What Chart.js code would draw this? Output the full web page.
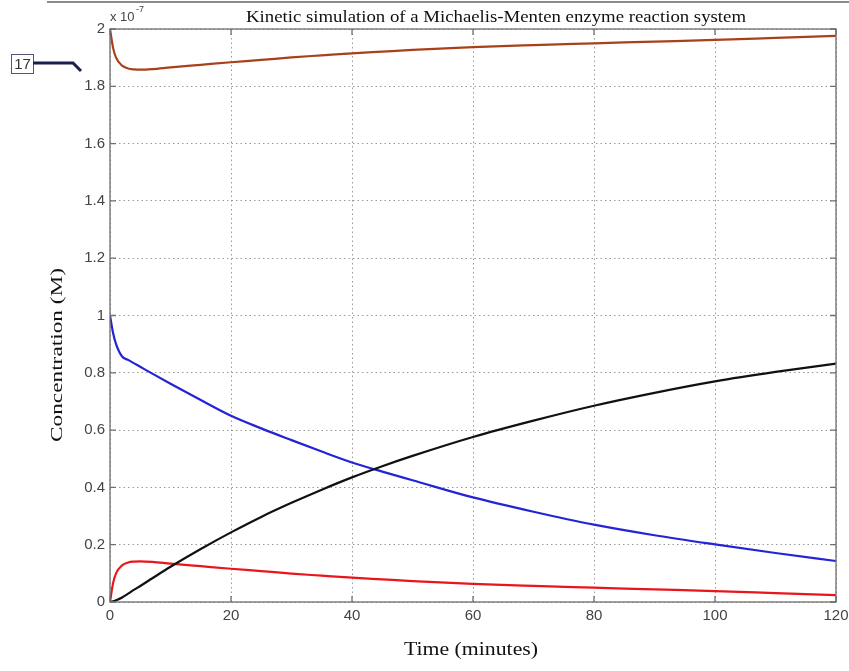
<!DOCTYPE html>
<html>
<head>
<meta charset="utf-8">
<title>Michaelis-Menten</title>
<script src="https://cdn.jsdelivr.net/npm/chart.js@4.4.0/dist/chart.umd.min.js"></script>
<style>
  html, body { margin: 0; padding: 0; background: #fff; }
  #contenedor { position: relative; width: 849px; height: 671px; }
  #lineaSuperior { position: absolute; left: 47px; top: 1px; width: 802px; height: 2px; background: #8c8c8c; }
  #marca { position: absolute; left: 11px; top: 54px; width: 21px; height: 18px; border: 1px solid #55557a;
           font: 15px "Liberation Sans", sans-serif; color: #333; text-align: center; line-height: 18px; }
  #flecha { position: absolute; left: 0; top: 0; }
</style>
</head>
<body>
<div id="contenedor">
  <canvas id="myChart"></canvas>
  <div id="lineaSuperior"></div>
  <div id="marca">17</div>
  <svg id="flecha" width="100" height="90"><polyline points="33,63 73,63 81,71" fill="none" stroke="#1b1f4e" stroke-width="3"/></svg>
</div>
<script>
// tiempo en minutos, concentraciones en unidades de 1e-7 M
const tiempo = [0, 0.5, 1, 2, 3, 4, 5, 7, 10, 15, 20, 25, 30, 35, 40, 45, 50, 60, 70, 80, 90, 100, 110, 120];
const sustrato = [1.0, 0.94, 0.9, 0.857, 0.845, 0.833, 0.821, 0.797, 0.762, 0.705, 0.65, 0.606, 0.565, 0.525, 0.487, 0.455, 0.425, 0.365, 0.315, 0.27, 0.233, 0.201, 0.171, 0.143];
const complejo = [0, 0.065, 0.1, 0.128, 0.138, 0.141, 0.142, 0.14, 0.134, 0.125, 0.116, 0.108, 0.099, 0.092, 0.085, 0.079, 0.073, 0.063, 0.056, 0.05, 0.044, 0.038, 0.031, 0.024];
const producto = [0, 0.002, 0.006, 0.016, 0.029, 0.043, 0.056, 0.083, 0.123, 0.185, 0.243, 0.297, 0.346, 0.392, 0.435, 0.474, 0.51, 0.576, 0.633, 0.685, 0.73, 0.77, 0.803, 0.832];
const enzima = [2.0, 1.935, 1.9, 1.872, 1.862, 1.859, 1.858, 1.86, 1.866, 1.875, 1.884, 1.892, 1.901, 1.908, 1.915, 1.921, 1.927, 1.937, 1.944, 1.95, 1.956, 1.962, 1.969, 1.976];

const ticksX = [0, 20, 40, 60, 80, 100, 120];
const ticksY = [0, 0.2, 0.4, 0.6, 0.8, 1, 1.2, 1.4, 1.6, 1.8, 2];

const titulo = "Kinetic simulation of a Michaelis-Menten enzyme reaction system";
const etiquetaX = "Time (minutes)";
const etiquetaY = "Concentration (M)";

function puntos(serie) {
  return tiempo.map((t, i) => ({ x: t, y: serie[i] }));
}

function serieDatos(datos, color) {
  return {
    data: puntos(datos),
    borderColor: color,
    borderWidth: 2.2,
    pointRadius: 0,
    fill: false,
    cubicInterpolationMode: "monotone",
  };
}

// texto centrado y estirado a un ancho dado (la imagen original esta estirada)
function textoAncho(ctx, texto, x, y, ancho) {
  const w = ctx.measureText(texto).width;
  ctx.save();
  ctx.translate(x, y);
  ctx.scale(ancho / w, 1);
  ctx.textAlign = "center";
  ctx.fillText(texto, 0, 0);
  ctx.restore();
}

// textos y caja estilo matlab
const marcoMatlab = {
  id: "marcoMatlab",
  afterDraw(chart) {
    const ctx = chart.ctx;
    const a = chart.chartArea;
    const sx = chart.scales.x;
    const sy = chart.scales.y;
    ctx.save();
    ctx.strokeStyle = "#6e6e6e";
    ctx.lineWidth = 1.3;
    ctx.strokeRect(a.left, a.top, a.right - a.left, a.bottom - a.top);
    ctx.beginPath();
    ticksX.forEach((v) => {
      const px = sx.getPixelForValue(v);
      ctx.moveTo(px, a.bottom); ctx.lineTo(px, a.bottom - 6);
      ctx.moveTo(px, a.top); ctx.lineTo(px, a.top + 6);
    });
    ticksY.forEach((v) => {
      const py = sy.getPixelForValue(v);
      ctx.moveTo(a.left, py); ctx.lineTo(a.left + 6, py);
      ctx.moveTo(a.right, py); ctx.lineTo(a.right - 6, py);
    });
    ctx.stroke();

    ctx.fillStyle = "#111";
    ctx.textBaseline = "alphabetic";
    ctx.font = "17px 'Liberation Serif', serif";
    textoAncho(ctx, titulo, 496, 22, 500);
    ctx.font = "19px 'Liberation Serif', serif";
    textoAncho(ctx, etiquetaX, 471, 655, 134);

    ctx.font = "16px 'Liberation Serif', serif";
    ctx.save();
    ctx.translate(62, 355);
    ctx.rotate(-Math.PI / 2);
    textoAncho(ctx, etiquetaY, 0, 0, 174);
    ctx.restore();

    ctx.fillStyle = "#444";
    ctx.textAlign = "left";
    ctx.font = "13px 'Liberation Sans', sans-serif";
    ctx.fillText("x 10", 110, 21);
    ctx.font = "9px 'Liberation Sans', sans-serif";
    ctx.fillText("-7", 136, 12);
    ctx.restore();
  },
};

const llamadoGrafico = document.querySelector("#myChart").getContext("2d");

const myChart = new Chart(llamadoGrafico, {
  type: "line",
  data: {
    datasets: [
      serieDatos(enzima, "#a8411a"),
      serieDatos(producto, "#111111"),
      serieDatos(sustrato, "#2424d6"),
      serieDatos(complejo, "#e8161c"),
    ],
  },
  options: {
    responsive: true,
    maintainAspectRatio: false,
    animation: false,
    layout: { padding: { top: 29, right: 13, bottom: 0, left: 0 } },
    plugins: { legend: { display: false }, title: { display: false }, tooltip: { enabled: false } },
    scales: {
      x: {
        type: "linear",
        min: 0,
        max: 120,
        afterBuildTicks: (s) => { s.ticks = ticksX.map((v) => ({ value: v })); },
        afterFit: (s) => { s.height = 69; s.paddingLeft = 0; s.paddingRight = 0; },
        ticks: { color: "#444", font: { family: "'Liberation Sans', sans-serif", size: 15 }, padding: 5, maxRotation: 0 },
        grid: { color: "#9a9a9a", lineWidth: 1, drawTicks: false },
        border: { display: false, dash: [1.5, 3] },
      },
      y: {
        type: "linear",
        min: 0,
        max: 2,
        afterBuildTicks: (s) => { s.ticks = ticksY.map((v) => ({ value: v })); },
        afterFit: (s) => { s.width = 110; s.paddingTop = 0; s.paddingBottom = 0; },
        ticks: {
          color: "#444",
          font: { family: "'Liberation Sans', sans-serif", size: 15 },
          padding: 5,
          callback: (v) => String(Number(v.toFixed(1))),
        },
        grid: { color: "#9a9a9a", lineWidth: 1, drawTicks: false },
        border: { display: false, dash: [1.5, 3] },
      },
    },
  },
  plugins: [marcoMatlab],
});
</script>
</body>
</html>
